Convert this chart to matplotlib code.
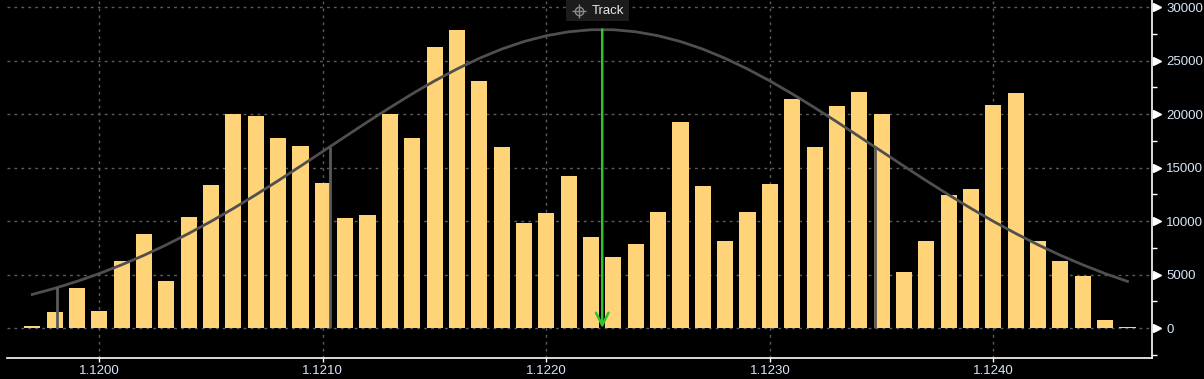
import numpy as np
import matplotlib.pyplot as plt
from matplotlib.patches import Rectangle
from matplotlib.lines import Line2D

# price levels (one bar per 0.0001) and traded volume
prices = np.round(np.arange(1.1197, 1.12465, 0.0001), 4)
volume = [200, 1520, 3750, 1610, 6270, 8790, 4400, 10370, 13350, 20000,
          19800, 17730, 17000, 13540, 10280, 10560, 20000, 17730, 26300, 27900,
          23050, 16900, 9810, 10740, 14200, 8500, 6640, 7850, 10840, 19220,
          13260, 8130, 10840, 13450, 21380, 16900, 20720, 22020, 20000, 5250,
          8130, 12420, 12980, 20800, 21930, 8130, 6270, 4870, 770, 100]

# fitted curve at each price level
curve = [3140, 3710, 4360, 5090, 5910, 6800, 7780, 8840, 9970, 11180,
         12450, 13770, 15130, 16510, 17890, 19270, 20600, 21890, 23100, 24210,
         25210, 26070, 26780, 27320, 27690, 27880, 27880, 27690, 27320, 26780,
         26070, 25210, 24210, 23100, 21890, 20600, 19270, 17890, 16510, 15130,
         13770, 12450, 11180, 9970, 8840, 7780, 6800, 5910, 5090, 4360]

sigma_x = [1.11981, 1.12103, 1.12347]
sigma_top = [3800, 16900, 17000]
mean_x = 1.12225
mean_top = 27900

xticks = [1.1200, 1.1210, 1.1220, 1.1230, 1.1240]
yticks = [0, 5000, 10000, 15000, 20000, 25000, 30000]
yminor = [-2500, 2500, 7500, 12500, 17500, 22500, 27500]

bg = 'black'
lblcol = '#d6e6f8'
gridcol = '#5c5c5c'

plt.rcParams['font.family'] = ['Liberation Sans', 'DejaVu Sans']

fig = plt.figure(figsize=(12.04, 3.79), dpi=100, facecolor=bg)
ax = fig.add_axes([7/1204, 21/379, 1145.3/1204, 358/379], facecolor=bg)

ax.bar(prices, volume, width=0.000072, color='#ffd479', zorder=2)
ax.plot(prices, curve, color='#4f4f4f', lw=2, zorder=3)
ax.vlines(sigma_x, 0, sigma_top, color='#5a5a5a', lw=2, zorder=3)

# mean marker - green arrow
ax.annotate('', xy=(mean_x, 0), xytext=(mean_x, mean_top),
            arrowprops=dict(arrowstyle='->,head_length=0.9,head_width=0.45',
                            color='#2fc42f', lw=1.8, shrinkA=0, shrinkB=0),
            zorder=4)

ax.set_xlim(1.119587, 1.124711)
ax.set_ylim(-2800, 30660)

ax.set_xticks(xticks)
ax.set_xticklabels(['%.4f' % t for t in xticks])
ax.yaxis.tick_right()
ax.set_yticks(yticks)
ax.set_yticklabels([str(t) for t in yticks])
ax.set_yticks(yminor, minor=True)

ax.tick_params(axis='x', colors='white', labelcolor=lblcol, length=3,
               width=1, labelsize=9.5, pad=2)
ax.tick_params(axis='y', which='major', length=0, labelcolor=lblcol,
               labelsize=9.5, pad=10)
ax.tick_params(axis='y', which='minor', colors='white', length=3.5, width=1)

# triangle markers at major y ticks
ax.plot(np.full(len(yticks), 1.0045), yticks, marker='>', ls='none',
        ms=5.5, color='white', transform=ax.get_yaxis_transform(),
        clip_on=False, zorder=5)

ax.grid(True, which='major', color=gridcol, ls=(0, (2, 3)), lw=1)
ax.set_axisbelow(True)

for s in ['top', 'left']:
    ax.spines[s].set_visible(False)
for s in ['bottom', 'right']:
    ax.spines[s].set_color('white')
    ax.spines[s].set_linewidth(1.2)

# "Track" button at the top
fig.add_artist(Rectangle((566/1204, 1 - 21/379), 63/1204, 21/379,
                         transform=fig.transFigure, facecolor='#1c1c1c',
                         edgecolor='none', zorder=6))
fig.add_artist(Line2D([579/1204], [1 - 11/379], marker='o', ms=6,
                      mfc='none', mec='#8a8a8a', mew=1,
                      transform=fig.transFigure, zorder=7))
fig.add_artist(Line2D([579/1204], [1 - 11/379], marker='+', ms=10,
                      mec='#8a8a8a', mew=1,
                      transform=fig.transFigure, zorder=7))
fig.text(592/1204, 1 - 11/379, 'Track', color='#e8e8e8', fontsize=9.5,
         va='center', ha='left', zorder=8)

fig.savefig('out.png', dpi=100, facecolor=bg)
